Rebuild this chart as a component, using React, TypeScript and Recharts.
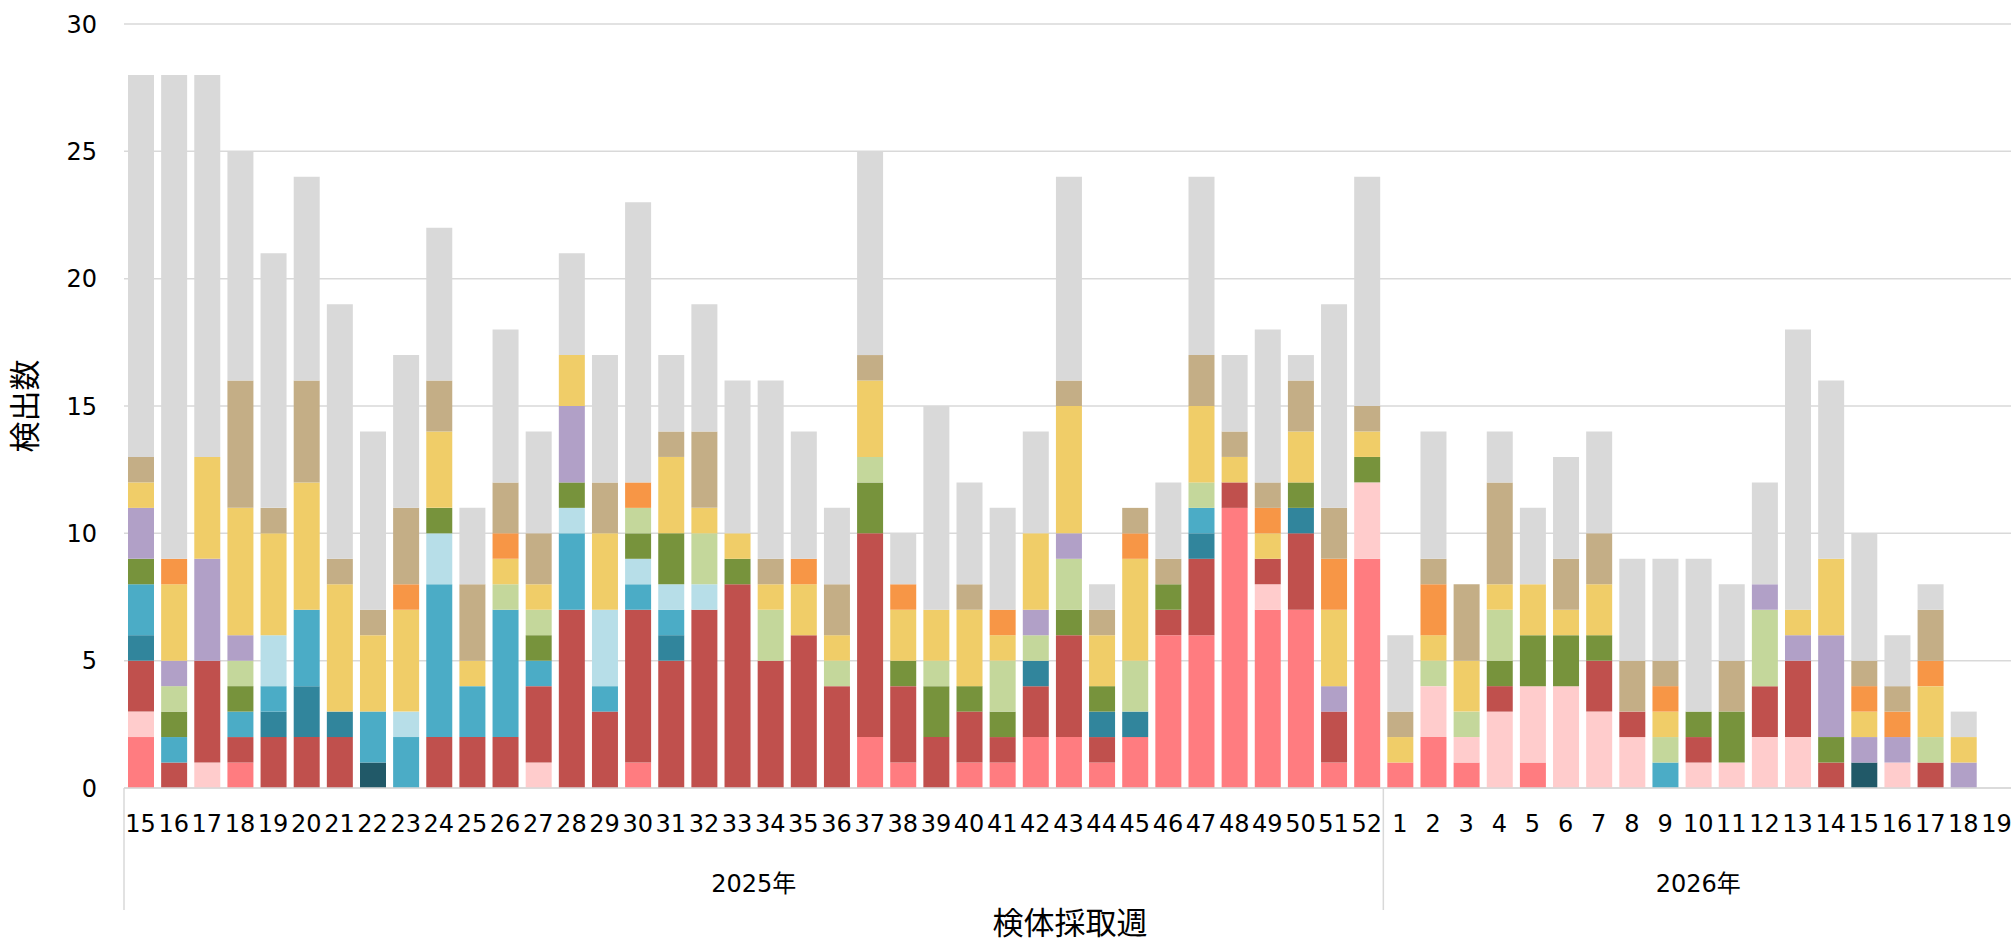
import React from 'react';
import { BarChart, Bar, XAxis, YAxis, CartesianGrid } from 'recharts';

// 検体採取週 (2025年 第15週〜2026年 第19週)
const years = [
  ...Array(38).fill('2025年'),
  ...Array(19).fill('2026年'),
];
const weeks = [
  15, 16, 17, 18, 19, 20, 21, 22, 23, 24, 25, 26, 27, 28, 29, 30, 31, 32, 33,
  34, 35, 36, 37, 38, 39, 40, 41, 42, 43, 44, 45, 46, 47, 48, 49, 50, 51, 52,
  1, 2, 3, 4, 5, 6, 7, 8, 9, 10, 11, 12, 13, 14, 15, 16, 17, 18, 19,
];

// 検出数 per series, stacked bottom -> top
const salmon = [2,0,0,1,0,0,0,0,0,0, 0,0,0,0,0,1,0,0,0,0, 0,0,2,1,0,1,1,2,2,1, 2,6,6,11,7,7,1,9,1,2, 1,0,1,0,0,0,0,0,0,0, 0,0,0,0,0,0,0];
const pink = [1,0,1,0,0,0,0,0,0,0, 0,0,1,0,0,0,0,0,0,0, 0,0,0,0,0,0,0,0,0,0, 0,0,0,0,1,0,0,3,0,2, 1,3,3,4,3,2,0,1,1,2, 2,0,0,1,0,0,0];
const red = [2,1,4,1,2,2,2,0,0,2, 2,2,3,7,3,6,5,7,8,5, 6,4,8,3,2,2,1,2,4,1, 0,1,3,1,1,3,2,0,0,0, 0,1,0,0,2,1,0,1,0,2, 3,1,0,0,1,0,0];
const navy = [0,0,0,0,0,0,0,1,0,0, 0,0,0,0,0,0,0,0,0,0, 0,0,0,0,0,0,0,0,0,0, 0,0,0,0,0,0,0,0,0,0, 0,0,0,0,0,0,0,0,0,0, 0,0,1,0,0,0,0];
const teal = [1,0,0,0,1,2,1,0,0,0, 0,0,0,0,0,0,1,0,0,0, 0,0,0,0,0,0,0,1,0,1, 1,0,1,0,0,1,0,0,0,0, 0,0,0,0,0,0,0,0,0,0, 0,0,0,0,0,0,0];
const blue = [2,1,0,1,1,3,0,2,2,6, 2,5,1,3,1,1,1,0,0,0, 0,0,0,0,0,0,0,0,0,0, 0,0,1,0,0,0,0,0,0,0, 0,0,0,0,0,0,1,0,0,0, 0,0,0,0,0,0,0];
const lightBlue = [0,0,0,0,2,0,0,0,1,2, 0,0,0,1,3,1,1,1,0,0, 0,0,0,0,0,0,0,0,0,0, 0,0,0,0,0,0,0,0,0,0, 0,0,0,0,0,0,0,0,0,0, 0,0,0,0,0,0,0];
const olive = [1,1,0,1,0,0,0,0,0,1, 0,0,1,1,0,1,2,0,1,0, 0,0,2,1,2,1,1,0,1,1, 0,1,0,0,0,1,0,1,0,0, 0,1,2,2,1,0,0,1,2,0, 0,1,0,0,0,0,0];
const lightGreen = [0,1,0,1,0,0,0,0,0,0, 0,1,1,0,0,1,0,2,0,2, 0,1,1,0,1,0,2,1,2,0, 2,0,1,0,0,0,0,0,0,1, 1,2,0,0,0,0,1,0,0,3, 0,0,0,0,1,0,0];
const purple = [2,1,4,1,0,0,0,0,0,0, 0,0,0,3,0,0,0,0,0,0, 0,0,0,0,0,0,0,1,1,0, 0,0,0,0,0,0,1,0,0,0, 0,0,0,0,0,0,0,0,0,1, 1,4,1,1,0,1,0];
const yellow = [1,3,4,5,4,5,5,3,4,3, 1,1,1,2,3,0,3,1,1,1, 2,1,3,2,2,3,1,3,5,2, 4,0,3,1,1,2,3,1,1,1, 2,1,2,1,2,0,1,0,0,0, 1,3,1,0,2,1,0];
const orange = [0,1,0,0,0,0,0,0,1,0, 0,1,0,0,0,1,0,0,0,0, 1,0,0,1,0,0,1,0,0,0, 1,0,0,0,1,0,2,0,0,2, 0,0,0,0,0,0,1,0,0,0, 0,0,1,1,1,0,0];
const tan = [1,0,0,5,1,4,1,1,3,2, 3,2,2,0,2,0,1,3,0,1, 0,2,1,0,0,1,0,0,1,1, 1,1,2,1,1,2,2,1,1,1, 3,4,0,2,2,2,1,0,2,0, 0,0,1,1,2,0,0];
const gray = [15,19,15,9,10,8,10,7,6,6, 3,6,4,4,5,11,3,5,6,7, 5,3,8,2,8,4,4,4,8,1, 0,3,7,3,6,1,8,9,3,5, 0,2,3,4,4,4,4,6,3,4, 11,7,5,2,1,1,0];

const yTicks = [0, 5, 10, 15, 20, 25, 30];

const series = [
  { key: 'salmon', values: salmon, color: '#FF7C80' },
  { key: 'pink', values: pink, color: '#FFCCCC' },
  { key: 'red', values: red, color: '#C0504D' },
  { key: 'navy', values: navy, color: '#215968' },
  { key: 'teal', values: teal, color: '#31859C' },
  { key: 'blue', values: blue, color: '#4BACC6' },
  { key: 'lightBlue', values: lightBlue, color: '#B7DEE8' },
  { key: 'olive', values: olive, color: '#77933C' },
  { key: 'lightGreen', values: lightGreen, color: '#C4D79B' },
  { key: 'purple', values: purple, color: '#B1A0C7' },
  { key: 'yellow', values: yellow, color: '#F0CD68' },
  { key: 'orange', values: orange, color: '#F79646' },
  { key: 'tan', values: tan, color: '#C4AE86' },
  { key: 'gray', values: gray, color: '#D9D9D9' },
];

const data = weeks.map((w, i) => {
  const row: Record<string, any> = { key: `${years[i]}-${w}`, week: w, year: years[i] };
  series.forEach(s => { row[s.key] = s.values[i]; });
  return row;
});

const CHART_W = 2020;
const CHART_H = 942;
const MARGIN = { top: 24, right: 7, bottom: 0, left: 0 };
const Y_AXIS_W = 124;
const X_AXIS_H = 154;
const FONT = "'DejaVu Sans', 'Noto Sans CJK JP', sans-serif";

function WeekTick(props: any) {
  const { x, y, payload } = props;
  const i = payload.index;
  const fallback = (CHART_W - MARGIN.left - MARGIN.right - Y_AXIS_W) / weeks.length / 2;
  const half = payload.offset > 0 ? payload.offset : fallback;
  const left = x - half;
  const isGroupStart = i === 0 || years[i] !== years[i - 1];
  const count = years.filter(v => v === years[i]).length;
  return (
    <g>
      <text
        x={x}
        y={y + 36}
        textAnchor="middle"
        dominantBaseline="central"
        fontSize={24}
        fontFamily={FONT}
        fill="#000"
      >
        {weeks[i]}
      </text>
      {isGroupStart && (
        <>
          <line x1={left} x2={left} y1={y} y2={y + 122} stroke="#D9D9D9" strokeWidth={1.5} />
          <text
            x={left + count * half}
            y={y + 96}
            textAnchor="middle"
            dominantBaseline="central"
            fontSize={24}
            fontFamily={FONT}
            fill="#000"
          >
            {years[i]}
          </text>
        </>
      )}
      {i === weeks.length - 1 && (
        <line x1={x + half} x2={x + half} y1={y} y2={y + 122} stroke="#D9D9D9" strokeWidth={1.5} />
      )}
    </g>
  );
}

export default function App() {
  return (
    <div
      style={{
        position: 'absolute',
        left: 0,
        top: 0,
        width: 2011,
        height: 942,
        overflow: 'hidden',
        background: '#fff',
      }}
    >
      <BarChart width={CHART_W} height={CHART_H} data={data} margin={MARGIN} barSize={26}>
        <CartesianGrid vertical={false} stroke="#D9D9D9" strokeWidth={1.5} />
        <XAxis
          dataKey="key"
          height={X_AXIS_H}
          interval={0}
          tickLine={false}
          tickSize={0}
          tickMargin={0}
          axisLine={{ stroke: '#D9D9D9', strokeWidth: 1.5 }}
          tick={<WeekTick />}
        />
        <YAxis
          width={Y_AXIS_W}
          domain={[0, 30]}
          ticks={yTicks}
          interval={0}
          axisLine={false}
          tickLine={false}
          tickMargin={21}
          tick={{ fontSize: 24, fontFamily: FONT, fill: '#000' }}
        />
        {series.map(s => (
          <Bar
            key={s.key}
            dataKey={s.key}
            stackId="a"
            fill={s.color}
            isAnimationActive={false}
          />
        ))}
      </BarChart>
      <div
        style={{
          position: 'absolute',
          left: 1070,
          top: 923,
          transform: 'translate(-50%, -50%)',
          fontSize: 31,
          lineHeight: '31px',
          fontFamily: FONT,
          whiteSpace: 'nowrap',
          color: '#000',
        }}
      >
        検体採取週
      </div>
      <div
        style={{
          position: 'absolute',
          left: 25,
          top: 406,
          transform: 'translate(-50%, -50%) rotate(-90deg)',
          fontSize: 31,
          lineHeight: '31px',
          fontFamily: FONT,
          whiteSpace: 'nowrap',
          color: '#000',
        }}
      >
        検出数
      </div>
    </div>
  );
}
